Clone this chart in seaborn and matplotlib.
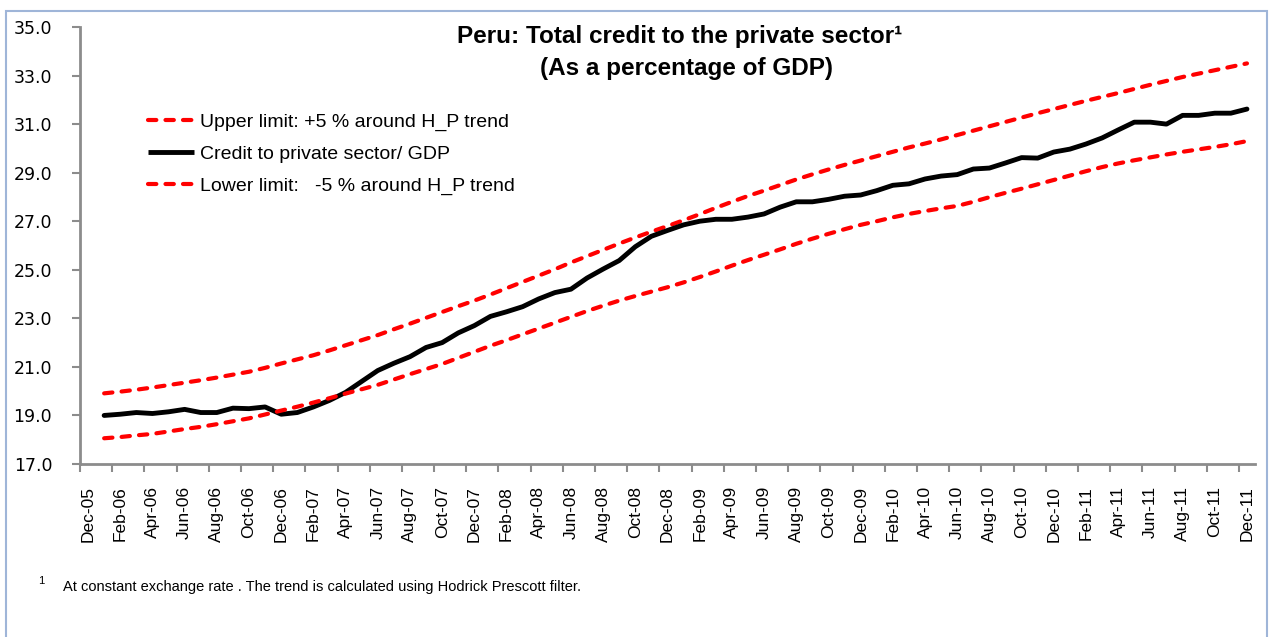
import numpy as np
import pandas as pd
import matplotlib
matplotlib.use("Agg")
import matplotlib.pyplot as plt
from matplotlib.patches import Rectangle
import seaborn as sns

# ---------------- data ----------------
months = pd.date_range("2005-12-01", "2011-12-01", freq="MS")  # Dec-05 .. Dec-11 (73 categories)
tick_labels = ["Dec-05", "Feb-06", "Apr-06", "Jun-06", "Aug-06", "Oct-06", "Dec-06",
               "Feb-07", "Apr-07", "Jun-07", "Aug-07", "Oct-07", "Dec-07",
               "Feb-08", "Apr-08", "Jun-08", "Aug-08", "Oct-08", "Dec-08",
               "Feb-09", "Apr-09", "Jun-09", "Aug-09", "Oct-09", "Dec-09",
               "Feb-10", "Apr-10", "Jun-10", "Aug-10", "Oct-10", "Dec-10",
               "Feb-11", "Apr-11", "Jun-11", "Aug-11", "Oct-11", "Dec-11"]

# values from Jan-06 to Dec-11
credit = [19.00, 19.05, 19.12, 19.08, 19.15, 19.25, 19.12, 19.12, 19.30, 19.28, 19.35, 19.05,
          19.12, 19.35, 19.62, 19.95, 20.40, 20.85, 21.15, 21.42, 21.80, 22.00, 22.40, 22.70,
          23.08, 23.27, 23.48, 23.80, 24.06, 24.20, 24.66, 25.03, 25.38, 25.95, 26.38, 26.62,
          26.85, 27.00, 27.08, 27.08, 27.17, 27.30, 27.58, 27.80, 27.80, 27.90, 28.03, 28.08,
          28.26, 28.48, 28.54, 28.74, 28.86, 28.92, 29.15, 29.19, 29.40, 29.62, 29.60, 29.85,
          29.97, 30.18, 30.43, 30.76, 31.08, 31.08, 31.00, 31.36, 31.36, 31.45, 31.45, 31.62]

upper = [19.91, 19.98, 20.06, 20.15, 20.25, 20.35, 20.45, 20.56, 20.68, 20.80, 20.96, 21.14,
         21.31, 21.48, 21.68, 21.89, 22.10, 22.31, 22.55, 22.78, 23.02, 23.26, 23.50, 23.73,
         23.98, 24.24, 24.50, 24.76, 25.02, 25.30, 25.56, 25.82, 26.08, 26.33, 26.57, 26.80,
         27.04, 27.29, 27.55, 27.80, 28.04, 28.26, 28.49, 28.72, 28.93, 29.13, 29.32, 29.50,
         29.68, 29.86, 30.04, 30.20, 30.37, 30.55, 30.73, 30.91, 31.09, 31.27, 31.45, 31.62,
         31.79, 31.96, 32.12, 32.28, 32.45, 32.62, 32.78, 32.94, 33.08, 33.22, 33.36, 33.50]

lower = [18.06, 18.11, 18.18, 18.24, 18.34, 18.44, 18.53, 18.64, 18.76, 18.88, 19.04, 19.20,
         19.36, 19.53, 19.71, 19.90, 20.08, 20.26, 20.48, 20.70, 20.91, 21.12, 21.37, 21.62,
         21.87, 22.10, 22.34, 22.58, 22.82, 23.06, 23.30, 23.52, 23.73, 23.92, 24.10, 24.28,
         24.48, 24.70, 24.93, 25.17, 25.40, 25.62, 25.84, 26.07, 26.28, 26.48, 26.67, 26.85,
         27.00, 27.16, 27.30, 27.42, 27.53, 27.63, 27.80, 27.99, 28.17, 28.34, 28.52, 28.70,
         28.88, 29.06, 29.23, 29.38, 29.51, 29.63, 29.75, 29.86, 29.96, 30.06, 30.17, 30.30]

y_ticks = [17.0, 19.0, 21.0, 23.0, 25.0, 27.0, 29.0, 31.0, 33.0, 35.0]

labels = ["Upper limit: +5 % around H_P trend",
          "Credit to private sector/ GDP",
          "Lower limit:   -5 % around H_P trend"]

df = pd.DataFrame({
    "pos": np.arange(1, len(months)),
    "credit": credit,
    "upper": upper,
    "lower": lower,
})

# ---------------- figure ----------------
sns.set_theme(style="white")
SANS = ["Liberation Sans", "DejaVu Sans"]
plt.rcParams["font.family"] = SANS
plt.rcParams["text.color"] = "black"
plt.rcParams["xtick.color"] = "black"
plt.rcParams["ytick.color"] = "black"

W, H = 1269, 637
fig = plt.figure(figsize=(W / 100, H / 100), dpi=100)
fig.patch.set_facecolor("white")
ax = fig.add_axes([80 / W, 1 - 464 / H, (1255 - 80) / W, (464 - 27) / H])

red_kw = dict(color="#FF0000", linewidth=3.0)
sns.lineplot(data=df, x="pos", y="upper", ax=ax, label=labels[0], **red_kw)
sns.lineplot(data=df, x="pos", y="credit", ax=ax, label=labels[1], color="black", linewidth=3.5)
sns.lineplot(data=df, x="pos", y="lower", ax=ax, label=labels[2], **red_kw)

for i, ln in enumerate(ax.lines):
    ln.set_solid_capstyle("round")
    ln.set_solid_joinstyle("round")
    if i in (0, 2):
        ln.set_dashes((2.0, 2.2))
        ln.set_dash_capstyle("round")

ax.set_xlim(-0.5, len(months) - 0.5)
ax.set_ylim(17, 35)
ax.set_xlabel("")
ax.set_ylabel("")

# y axis
ax.set_yticks(y_ticks)
ax.set_yticklabels([f"{v:.1f}" for v in y_ticks], fontfamily="DejaVu Sans", fontsize=12.5, color="black")
ax.tick_params(axis="y", which="major", direction="out", length=6, width=1.5,
               color="#8c8c8c", pad=14, left=True)

# x axis: tick marks at category boundaries every 2, labels at categories every 2
ax.set_xticks(np.arange(-0.5, len(months) - 1, 2))
ax.set_xticklabels([])
ax.tick_params(axis="x", which="major", direction="out", length=6, width=1.5,
               color="#8c8c8c", bottom=True)
ax.set_xticks(np.arange(0, len(months), 2), minor=True)
ax.set_xticklabels(tick_labels, minor=True, rotation=90, fontsize=12.5, color="black",
                   fontfamily=SANS)
ax.tick_params(axis="x", which="minor", length=0, pad=16)

for side in ("top", "right"):
    ax.spines[side].set_visible(False)
for side in ("left", "bottom"):
    ax.spines[side].set_color("#8c8c8c")
    ax.spines[side].set_linewidth(2)
ax.grid(False)

# legend
leg = ax.legend(loc="upper left", bbox_to_anchor=(148 / W, 1 - 113 / H),
                bbox_transform=fig.transFigure, frameon=False, fontsize=14,
                handlelength=2.35, handletextpad=0.3, labelspacing=0.74,
                borderpad=0, borderaxespad=0)
for t in leg.get_texts():
    t.set_fontfamily(SANS)
    t.set_color("black")
for h in leg.get_lines():
    h.set_solid_capstyle("butt")

# title
fig.text(680 / W, 1 - 37 / H, "Peru: Total credit to the private sector\u00b9",
         ha="center", va="center", fontsize=17.5, fontweight="bold", fontfamily=SANS)
fig.text(687 / W, 1 - 68 / H, "(As a percentage of GDP)",
         ha="center", va="center", fontsize=17.5, fontweight="bold", fontfamily=SANS)

# footnote
fig.text(38 / W, 1 - 581 / H, "1", ha="left", va="center", fontsize=8, fontfamily=SANS)
fig.text(63 / W, 1 - 587 / H,
         "At constant exchange rate . The trend is calculated using Hodrick Prescott filter.",
         ha="left", va="center", fontsize=10.5, fontfamily=SANS)

# chart-area border
fig.patches.append(Rectangle((6 / W, -0.05), (W - 8) / W, 1 - 11 / H + 0.05,
                             transform=fig.transFigure, fill=False,
                             edgecolor="#9fb5d8", linewidth=1.5))

fig.savefig("out.png", dpi=100)
